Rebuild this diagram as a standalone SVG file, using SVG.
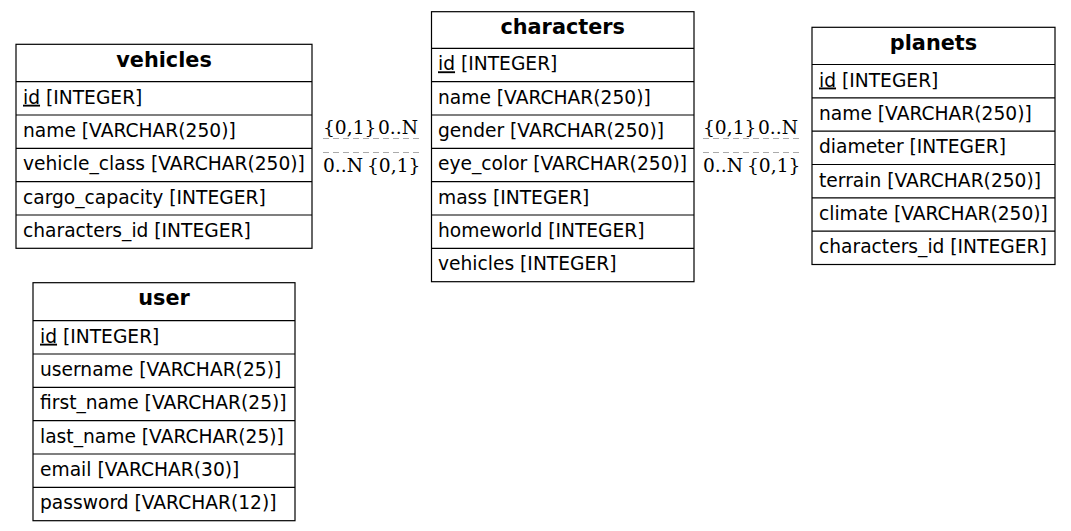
<svg xmlns="http://www.w3.org/2000/svg" width="1071" height="531" viewBox="0 0 1071 531">
  <style>
    .box { fill: #fff; stroke: #000; stroke-width: 1.2; }
    .sep { stroke: #000; stroke-width: 1.2; }
    .title { font-family: "DejaVu Sans", sans-serif; font-weight: bold; font-size: 20.8px; text-anchor: middle; fill: #000; }
    .row { font-family: "DejaVu Sans", sans-serif; font-size: 18.67px; fill: #000; }
    .pk { text-decoration: underline; }
    .card { font-family: "DejaVu Serif", serif; font-size: 18.67px; fill: #000; }
    .edge { stroke: #aaa; stroke-width: 1; stroke-dasharray: 6 4; fill: none; }
  </style>
  <rect width="1071" height="531" fill="#fff"/>

  <!-- relationships -->
  <g id="connectors">
    <line class="edge" x1="323" y1="138.5" x2="419" y2="138.5"/>
    <line class="edge" x1="323" y1="152.5" x2="419" y2="152.5"/>
    <line class="edge" x1="703" y1="138.5" x2="800" y2="138.5"/>
    <line class="edge" x1="703" y1="152.5" x2="800" y2="152.5"/>
    <text class="card" x="323" y="133.5">{0,1}</text>
    <text class="card" x="378" y="133.5">0..N</text>
    <text class="card" x="323" y="171.5">0..N</text>
    <text class="card" x="367" y="171.5">{0,1}</text>
    <text class="card" x="703" y="133.5">{0,1}</text>
    <text class="card" x="758" y="133.5">0..N</text>
    <text class="card" x="703" y="171.5">0..N</text>
    <text class="card" x="747" y="171.5">{0,1}</text>
  </g>

  <!-- vehicles table -->
  <g id="vehicles">
    <rect class="box" x="16" y="44.3" width="296" height="204"/>
    <line class="sep" x1="16" y1="81.7" x2="312" y2="81.7"/>
    <line class="sep" x1="16" y1="115" x2="312" y2="115"/>
    <line class="sep" x1="16" y1="148.3" x2="312" y2="148.3"/>
    <line class="sep" x1="16" y1="181.7" x2="312" y2="181.7"/>
    <line class="sep" x1="16" y1="215" x2="312" y2="215"/>
    <text class="title" x="164" y="67">vehicles</text>
    <text class="row" x="23" y="103.7"><tspan class="pk">id</tspan> [INTEGER]</text>
    <text class="row" x="23" y="137">name [VARCHAR(250)]</text>
    <text class="row" x="23" y="170.3">vehicle_class [VARCHAR(250)]</text>
    <text class="row" x="23" y="203.7">cargo_capacity [INTEGER]</text>
    <text class="row" x="23" y="237">characters_id [INTEGER]</text>
  </g>

  <!-- characters table -->
  <g id="characters">
    <rect class="box" x="431.5" y="11.7" width="262.5" height="270"/>
    <line class="sep" x1="431.5" y1="48.3" x2="694" y2="48.3"/>
    <line class="sep" x1="431.5" y1="81.7" x2="694" y2="81.7"/>
    <line class="sep" x1="431.5" y1="115" x2="694" y2="115"/>
    <line class="sep" x1="431.5" y1="148.3" x2="694" y2="148.3"/>
    <line class="sep" x1="431.5" y1="181.7" x2="694" y2="181.7"/>
    <line class="sep" x1="431.5" y1="215" x2="694" y2="215"/>
    <line class="sep" x1="431.5" y1="248.3" x2="694" y2="248.3"/>
    <text class="title" x="562.7" y="34.3">characters</text>
    <text class="row" x="438" y="70.3"><tspan class="pk">id</tspan> [INTEGER]</text>
    <text class="row" x="438" y="103.7">name [VARCHAR(250)]</text>
    <text class="row" x="438" y="137">gender [VARCHAR(250)]</text>
    <text class="row" x="438" y="170.3">eye_color [VARCHAR(250)]</text>
    <text class="row" x="438" y="203.7">mass [INTEGER]</text>
    <text class="row" x="438" y="237">homeworld [INTEGER]</text>
    <text class="row" x="438" y="270.3">vehicles [INTEGER]</text>
  </g>

  <!-- planets table -->
  <g id="planets">
    <rect class="box" x="812" y="27.3" width="243" height="237.2"/>
    <line class="sep" x1="812" y1="64.5" x2="1055" y2="64.5"/>
    <line class="sep" x1="812" y1="97.8" x2="1055" y2="97.8"/>
    <line class="sep" x1="812" y1="131.2" x2="1055" y2="131.2"/>
    <line class="sep" x1="812" y1="164.5" x2="1055" y2="164.5"/>
    <line class="sep" x1="812" y1="197.8" x2="1055" y2="197.8"/>
    <line class="sep" x1="812" y1="231.2" x2="1055" y2="231.2"/>
    <text class="title" x="933.5" y="50">planets</text>
    <text class="row" x="819" y="86.5"><tspan class="pk">id</tspan> [INTEGER]</text>
    <text class="row" x="819" y="119.8">name [VARCHAR(250)]</text>
    <text class="row" x="819" y="153.2">diameter [INTEGER]</text>
    <text class="row" x="819" y="186.5">terrain [VARCHAR(250)]</text>
    <text class="row" x="819" y="219.8">climate [VARCHAR(250)]</text>
    <text class="row" x="819" y="253.2">characters_id [INTEGER]</text>
  </g>

  <!-- user table -->
  <g id="user">
    <rect class="box" x="33" y="282.7" width="262" height="238"/>
    <line class="sep" x1="33" y1="320.7" x2="295" y2="320.7"/>
    <line class="sep" x1="33" y1="354" x2="295" y2="354"/>
    <line class="sep" x1="33" y1="387.3" x2="295" y2="387.3"/>
    <line class="sep" x1="33" y1="420.7" x2="295" y2="420.7"/>
    <line class="sep" x1="33" y1="454" x2="295" y2="454"/>
    <line class="sep" x1="33" y1="487.3" x2="295" y2="487.3"/>
    <text class="title" x="164" y="305.4">user</text>
    <text class="row" x="40" y="342.7"><tspan class="pk">id</tspan> [INTEGER]</text>
    <text class="row" x="40" y="376">username [VARCHAR(25)]</text>
    <text class="row" x="40" y="409.3">first_name [VARCHAR(25)]</text>
    <text class="row" x="40" y="442.7">last_name [VARCHAR(25)]</text>
    <text class="row" x="40" y="476">email [VARCHAR(30)]</text>
    <text class="row" x="40" y="509.3">password [VARCHAR(12)]</text>
  </g>
</svg>
